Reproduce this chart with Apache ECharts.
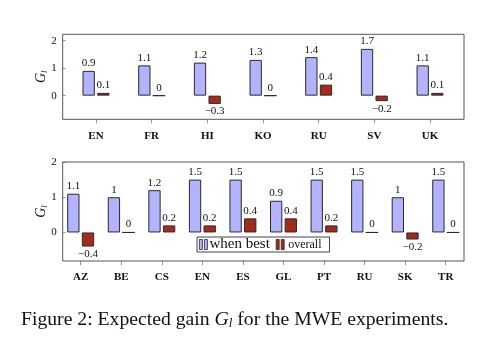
<!DOCTYPE html>
<html>
<head>
<meta charset="utf-8">
<script src="https://cdn.jsdelivr.net/npm/echarts@6/dist/echarts.min.js"></script>
<style>
  html, body { margin: 0; padding: 0; background: #fff; }
  #main { width: 484px; height: 360px; }
</style>
</head>
<body>
<div id="main"></div>
<script>
// top panel
const topLangs = ['EN', 'FR', 'HI', 'KO', 'RU', 'SV', 'UK'];
const topBest = [0.9, 1.1, 1.2, 1.3, 1.4, 1.7, 1.1];
const topOverall = [0.1, 0, -0.3, 0, 0.4, -0.2, 0.1];
// bottom panel
const bottomLangs = ['AZ', 'BE', 'CS', 'EN', 'ES', 'GL', 'PT', 'RU', 'SK', 'TR'];
const bottomBest = [1.1, 1, 1.2, 1.5, 1.5, 0.9, 1.5, 1.5, 1, 1.5];
const bottomOverall = [-0.4, 0, 0.2, 0.2, 0.4, 0.4, 0.2, 0, -0.2, 0];
const yTicks = [0, 1, 2];

const serif = '"Liberation Serif", "DejaVu Serif", serif';
const blue = '#b3b3ff';
const red = '#a52a1c';

function fmt(v) {
  return v < 0 ? '\u2212' + Math.abs(v) : String(v);
}

function barData(values) {
  return values.map(v => ({
    value: v,
    label: { position: v < 0 ? 'bottom' : 'top' }
  }));
}

function barSeries(name, values, idx, color) {
  return {
    name: name,
    type: 'bar',
    xAxisIndex: idx,
    yAxisIndex: idx,
    barWidth: 12.3,
    barGap: '19%',
    itemStyle: { color: color, borderColor: '#2a2a2a', borderWidth: 1 },
    label: {
      show: true,
      distance: 2,
      color: '#111',
      fontFamily: serif,
      fontSize: 11,
      formatter: p => fmt(p.value)
    },
    emphasis: { disabled: true },
    data: barData(values)
  };
}

function xAxis(idx, cats) {
  return {
    type: 'category',
    gridIndex: idx,
    data: cats,
    axisLine: { show: false, onZero: false },
    axisTick: { show: true, alignWithLabel: true, length: 4, lineStyle: { color: '#999' } },
    axisLabel: { margin: 11, color: '#111', fontFamily: serif, fontSize: 11, fontWeight: 'bold' }
  };
}

function yAxis(idx, min, max, offset) {
  return {
    type: 'value',
    gridIndex: idx,
    min: min,
    max: max,
    offset: offset,
    name: '{g|G}{s|l}',
    nameLocation: 'middle',
    nameRotate: 90,
    nameGap: 14,
    nameMoveOverlap: false,
    nameTextStyle: {
      rich: {
        g: { fontFamily: serif, fontStyle: 'italic', fontSize: 14, color: '#111' },
        s: { fontFamily: serif, fontStyle: 'italic', fontSize: 9, color: '#111', padding: [5, 0, 0, 0] }
      }
    },
    axisLine: { show: false, onZero: false },
    splitLine: { show: false },
    axisTick: { show: true, inside: true, length: 3, customValues: yTicks, lineStyle: { color: '#999' } },
    axisLabel: { margin: 6, customValues: yTicks, color: '#111', fontFamily: serif, fontSize: 11 }
  };
}

let chart = echarts.init(document.getElementById('main'), null, { renderer: 'canvas' });

let option = {
  backgroundColor: '#fff',
  animation: false,
  title: {
    left: 16,
    top: 305,
    text: '{n|Figure 2: Expected gain }{g|G}{s|l}{n| for the MWE experiments.}',
    textStyle: {
      rich: {
        n: { fontFamily: serif, fontSize: 19.7, fontWeight: 'normal', color: '#111' },
        g: { fontFamily: serif, fontSize: 19.7, fontWeight: 'normal', fontStyle: 'italic', color: '#111' },
        s: { fontFamily: serif, fontSize: 13, fontWeight: 'normal', fontStyle: 'italic', color: '#111', padding: [7, 0, 0, 0] }
      }
    }
  },
  legend: {
    left: 197,
    top: 237,
    data: ['when best', 'overall'],
    orient: 'horizontal',
    icon: 'path://M0,0h3v10h-3z M5,0h3v10h-3z',
    itemWidth: 8,
    itemHeight: 10,
    itemGap: 6,
    itemStyle: { borderWidth: 0.8 },
    padding: [0, 8, 0, 2],
    borderColor: '#444',
    borderWidth: 1,
    backgroundColor: '#fff',
    selectedMode: false,
    formatter: name => name === 'overall' ? '{o|overall}' : '{w|when best}',
    textStyle: {
      padding: [0, 0, 0, -3],
      rich: {
        w: { fontFamily: serif, fontSize: 15, color: '#111' },
        o: { fontFamily: serif, fontSize: 12, color: '#111', padding: [0, 0, 0, 2] }
      }
    }
  },
  grid: [
    { left: 68.15, right: 26.15, top: 34.3, height: 85 },
    { left: 60.4, right: 18, top: 162, height: 99 }
  ],
  xAxis: [xAxis(0, topLangs), xAxis(1, bottomLangs)],
  yAxis: [yAxis(0, -0.86, 2.23, 5.45), yAxis(1, -0.81, 2.0, -2.3)],
  // frames around the two panels
  graphic: [
    { type: 'rect', z: 10, silent: true, shape: { x: 62.7, y: 34.3, width: 401.3, height: 85 },
      style: { fill: 'none', stroke: '#555', lineWidth: 1 } },
    { type: 'rect', z: 10, silent: true, shape: { x: 62.7, y: 162, width: 401.3, height: 99 },
      style: { fill: 'none', stroke: '#555', lineWidth: 1 } }
  ],
  series: [
    barSeries('when best', topBest, 0, blue),
    barSeries('overall', topOverall, 0, red),
    barSeries('when best', bottomBest, 1, blue),
    barSeries('overall', bottomOverall, 1, red)
  ]
};

chart.setOption(option);
</script>
</body>
</html>
